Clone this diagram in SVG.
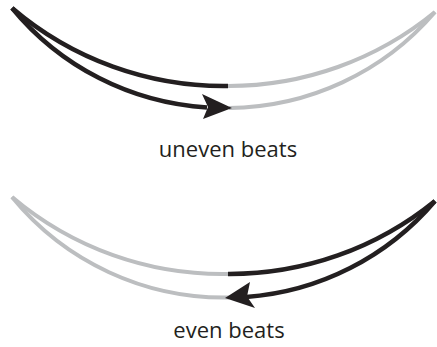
<svg xmlns="http://www.w3.org/2000/svg" width="437" height="347" viewBox="0 0 437 347">
<style>
.blk{fill:none;stroke:#231f20;stroke-width:4.5;stroke-linecap:butt}
.gry{fill:none;stroke:#bcbec0;stroke-width:4;stroke-linecap:butt}
.head{fill:#231f20}
.lbl{font-family:"Open Sans","Noto Sans",sans-serif;font-size:22px;fill:#231f20;text-anchor:middle}
</style>
<rect width="437" height="347" fill="#fff"/>
<g id="uneven">
  <path class="blk" d="M12,8 A325.7,325.7 0 0,0 228,86"/>
  <path class="gry" d="M228,86 A325.7,325.7 0 0,0 435,12"/>
  <path class="blk" d="M12,8 A273.7,273.7 0 0,0 207,107.5"/>
  <path class="gry" d="M229,107.9 A273.7,273.7 0 0,0 435,12"/>
  <polygon class="head" points="232,108 202,94 208,107 203,119"/>
  <text class="lbl" x="228" y="157">uneven beats</text>
</g>
<g id="even">
  <path class="gry" d="M12,197 A325.7,325.7 0 0,0 228,274"/>
  <path class="blk" d="M228,274 A325.7,325.7 0 0,0 435,201"/>
  <path class="gry" d="M12,197 A273.7,273.7 0 0,0 229,297.5"/>
  <path class="blk" d="M246,297 A273.7,273.7 0 0,0 435,201"/>
  <polygon class="head" points="225,298 250,282 247,296.5 255,308"/>
  <text class="lbl" x="229" y="338">even beats</text>
</g>
</svg>
